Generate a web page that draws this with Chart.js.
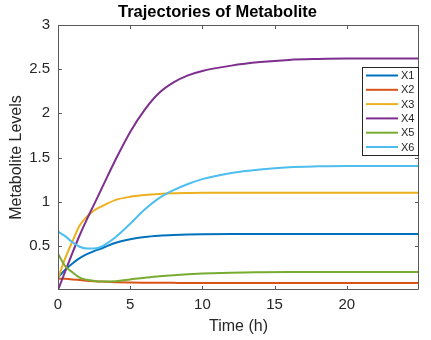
<!DOCTYPE html>
<html>
<head>
<meta charset="utf-8">
<script src="https://cdn.jsdelivr.net/npm/chart.js@4.4.0/dist/chart.umd.min.js"></script>
<style>
  html, body { margin: 0; padding: 0; background: #fff; }
  #wrap { width: 431px; height: 340px; }
</style>
</head>
<body>
<div id="wrap"><canvas id="myChart" width="431" height="340"></canvas></div>
<script>
// time points (h) and metabolite levels
const times = [0, 0.5, 1, 1.5, 2, 2.5, 3, 4, 5, 6, 7, 8, 9, 10, 12, 14, 16, 18, 20, 22, 25];
const x1 = [0.14, 0.23, 0.3, 0.36, 0.405, 0.44, 0.47, 0.535, 0.575, 0.6, 0.614, 0.622, 0.627, 0.63, 0.633, 0.634, 0.634, 0.634, 0.634, 0.634, 0.634];
const x2 = [0.13, 0.126, 0.12, 0.113, 0.106, 0.1, 0.095, 0.089, 0.085, 0.083, 0.082, 0.081, 0.08, 0.08, 0.08, 0.08, 0.08, 0.08, 0.08, 0.08, 0.08];
const x3 = [0.13, 0.36, 0.55, 0.73, 0.83, 0.9, 0.945, 1.02, 1.055, 1.075, 1.088, 1.095, 1.098, 1.1, 1.1, 1.1, 1.1, 1.1, 1.1, 1.1, 1.1];
const x4 = [0, 0.21, 0.42, 0.62, 0.8, 0.97, 1.14, 1.48, 1.79, 2.04, 2.23, 2.35, 2.43, 2.48, 2.54, 2.58, 2.605, 2.615, 2.62, 2.62, 2.62];
const x5 = [0.41, 0.27, 0.2, 0.14, 0.115, 0.103, 0.097, 0.1, 0.12, 0.14, 0.155, 0.168, 0.178, 0.186, 0.196, 0.201, 0.204, 0.205, 0.205, 0.205, 0.205];
const x6 = [0.66, 0.61, 0.54, 0.49, 0.47, 0.47, 0.49, 0.6, 0.75, 0.91, 1.04, 1.13, 1.2, 1.255, 1.325, 1.365, 1.39, 1.4, 1.405, 1.405, 1.405];

const seriesNames = ["X1", "X2", "X3", "X4", "X5", "X6"];
const seriesValues = [x1, x2, x3, x4, x5, x6];
const seriesColors = ["#0072BD", "#D95319", "#EDB120", "#7E2F8E", "#77AC30", "#4DBEEE"];

const xTicks = [0, 5, 10, 15, 20];
const yTicks = [0.5, 1, 1.5, 2, 2.5, 3];

const FONT = "'Liberation Sans', Arial, Helvetica, sans-serif";
const TEXT = "#262626";
const AXIS = "#5a5a5a";

// box around the plot, inward ticks and legend inside the axes
const matlabLook = {
	id: "matlabLook",
	afterDatasetsDraw(chart) {
		const { ctx, chartArea: a, scales } = chart;
		ctx.save();
		ctx.strokeStyle = AXIS;
		ctx.lineWidth = 1;
		ctx.beginPath();
		ctx.rect(Math.round(a.left) + 0.5, Math.round(a.top) + 0.5,
			Math.round(a.right - a.left) - 1, Math.round(a.bottom - a.top) - 1);
		ctx.stroke();

		const tl = 4;
		ctx.beginPath();
		xTicks.forEach(v => {
			const px = Math.round(scales.x.getPixelForValue(v)) + 0.5;
			ctx.moveTo(px, a.bottom); ctx.lineTo(px, a.bottom - tl);
			ctx.moveTo(px, a.top); ctx.lineTo(px, a.top + tl);
		});
		yTicks.forEach(v => {
			const py = Math.round(scales.y.getPixelForValue(v)) + 0.5;
			ctx.moveTo(a.left, py); ctx.lineTo(a.left + tl, py);
			ctx.moveTo(a.right, py); ctx.lineTo(a.right - tl, py);
		});
		ctx.stroke();

		// legend
		const bw = 57, rowH = 14.3;
		const bx = Math.round(a.right) - bw, by = Math.round(a.top) + 42;
		const bh = Math.round(rowH * seriesNames.length + 3);
		ctx.fillStyle = "#fff";
		ctx.fillRect(bx, by, bw, bh);
		ctx.strokeStyle = "#262626";
		ctx.strokeRect(bx + 0.5, by + 0.5, bw - 1, bh - 1);
		ctx.font = "11px " + FONT;
		ctx.textBaseline = "middle";
		ctx.textAlign = "left";
		seriesNames.forEach((name, i) => {
			const cy = by + 8.5 + i * rowH;
			ctx.strokeStyle = seriesColors[i];
			ctx.lineWidth = 2;
			ctx.beginPath();
			ctx.moveTo(bx + 4, cy); ctx.lineTo(bx + 36, cy);
			ctx.stroke();
			ctx.fillStyle = TEXT;
			ctx.fillText(name, bx + 39, cy + 0.5);
		});
		ctx.restore();
	},
};

const ctx = document.getElementById("myChart").getContext("2d");

const myChart = new Chart(ctx, {
	type: "line",
	data: {
		datasets: seriesNames.map((name, i) => ({
			label: name,
			data: times.map((t, j) => ({ x: t, y: seriesValues[i][j] })),
			borderColor: seriesColors[i],
			backgroundColor: seriesColors[i],
			borderWidth: 2,
			pointRadius: 0,
			fill: false,
			cubicInterpolationMode: "monotone",
			order: seriesNames.length - i,
		})),
	},
	options: {
		responsive: false,
		animation: false,
		devicePixelRatio: 1,
		layout: { padding: { left: 16, right: 12, top: 0, bottom: 0 } },
		plugins: {
			legend: { display: false },
			tooltip: { enabled: false },
			title: {
				display: true,
				text: "Trajectories of Metabolite",
				color: "#000",
				font: { family: FONT, size: 16.5, weight: "bold", lineHeight: 1.2 },
				padding: { top: 3, bottom: 2.2 },
			},
		},
		scales: {
			x: {
				type: "linear",
				min: 0,
				max: 25,
				afterBuildTicks: (s) => { s.ticks = xTicks.map(v => ({ value: v })); },
				afterFit: (s) => { s.height = 50; },
				grid: { display: false, drawTicks: false },
				border: { display: false },
				ticks: { color: TEXT, font: { family: FONT, size: 15 }, padding: 6, maxRotation: 0,
					callback: (v) => String(v) },
				title: {
					display: true,
					text: "Time (h)",
					color: TEXT,
					font: { family: FONT, size: 16 },
					padding: { top: 0, bottom: 4 },
				},
			},
			y: {
				type: "linear",
				min: 0,
				max: 3,
				afterBuildTicks: (s) => { s.ticks = yTicks.map(v => ({ value: v })); },
				afterFit: (s) => { s.width = 42; },
				grid: { display: false, drawTicks: false },
				border: { display: false },
				ticks: { color: TEXT, font: { family: FONT, size: 15 }, padding: 8,
					callback: (v) => String(v) },
				title: {
					display: true,
					text: "Metabolite Levels",
					color: TEXT,
					font: { family: FONT, size: 16 },
					padding: { top: -9, bottom: 0 },
				},
			},
		},
	},
	plugins: [matlabLook],
});
</script>
</body>
</html>
